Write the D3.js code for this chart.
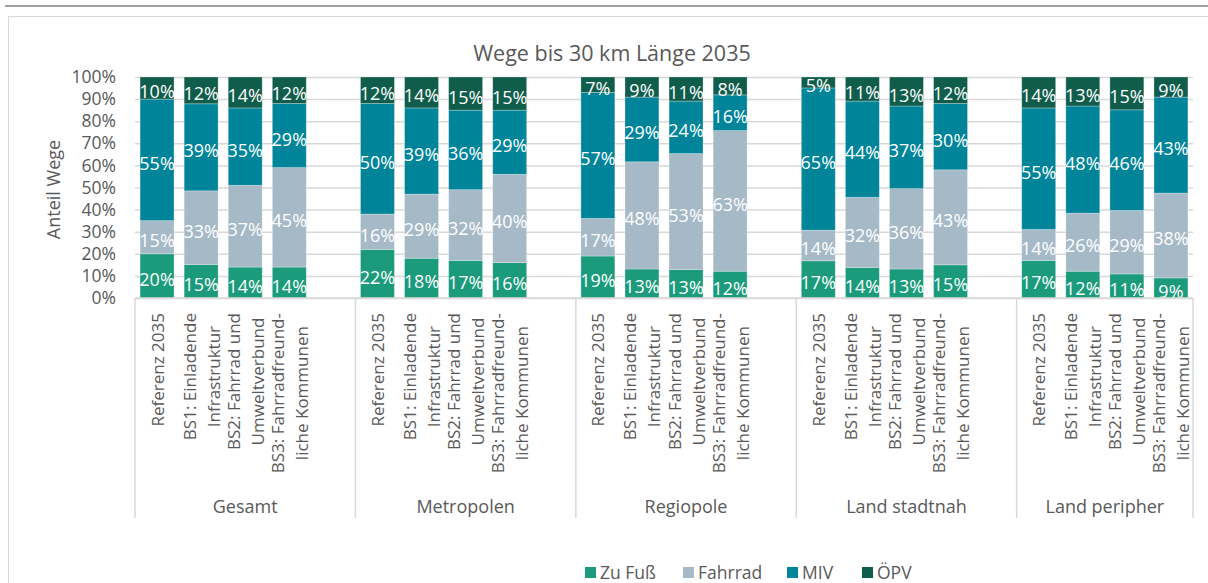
<!DOCTYPE html>
<html><head><meta charset="utf-8">
<script src="https://cdn.jsdelivr.net/npm/d3@7/dist/d3.min.js"></script>
<style>
html,body{margin:0;padding:0;background:#fff;}
svg{display:block;font-family:"Open Sans",sans-serif;}
</style></head><body>
<svg id="chart" width="1208" height="583"></svg>
<script>
const title = "Wege bis 30 km Länge 2035";
const yAxisTitle = "Anteil Wege";
const groups = ["Gesamt", "Metropolen", "Regiopole", "Land stadtnah", "Land peripher"];
const scenarioLines = [
  ["Referenz 2035"],
  ["BS1: Einladende", "Infrastruktur"],
  ["BS2: Fahrrad und", "Umweltverbund"],
  ["BS3: Fahrradfreund-", "liche Kommunen"]
];
const seriesNames = ["Zu Fuß", "Fahrrad", "MIV", "ÖPV"];
const zuFuss  = [20, 15, 14, 14,  22, 18, 17, 16,  19, 13, 13, 12,  17, 14, 13, 15,  17, 12, 11, 9];
const fahrrad = [15, 33, 37, 45,  16, 29, 32, 40,  17, 48, 53, 63,  14, 32, 36, 43,  14, 26, 29, 38];
const miv     = [55, 39, 35, 29,  50, 39, 36, 29,  57, 29, 24, 16,  65, 44, 37, 30,  55, 48, 46, 43];
const oepv    = [10, 12, 14, 12,  12, 14, 15, 15,   7,  9, 11,  8,   5, 11, 13, 12,  14, 13, 15,  9];
const yTicks  = [0, 0.1, 0.2, 0.3, 0.4, 0.5, 0.6, 0.7, 0.8, 0.9, 1.0];
const colors  = ["#1b9b7b", "#a6b9c7", "#00849a", "#115d4b"];

const seriesValues = [zuFuss, fahrrad, miv, oepv];
const svg = d3.select("#chart");
const textColor = "#595959";
const gridColor = "#d9d9d9";

// outer decorations
svg.append("line").attr("x1", 5).attr("x2", 1208).attr("y1", 6).attr("y2", 6)
  .attr("stroke", "#a0a0a0").attr("stroke-width", 2);
svg.append("rect").attr("x", 8.5).attr("y", 16.5).attr("width", 1400).attr("height", 800)
  .attr("fill", "none").attr("stroke", gridColor).attr("stroke-width", 1);

// slots (with blank slots between groups)
const slots = [];
groups.forEach((g, gi) => {
  scenarioLines.forEach((s, si) => slots.push(gi + "-" + si));
  if (gi < groups.length - 1) slots.push(gi + "-gap");
});

const plotLeft = 135, plotRight = 1193, plotTop = 77, plotBottom = 298;
const x = d3.scaleBand().domain(slots).range([plotLeft, plotRight]).paddingInner(0.23).paddingOuter(0.115);
const y = d3.scaleLinear().domain([0, 1]).range([plotBottom, plotTop]);

// rows
const rows = [];
groups.forEach((g, gi) => {
  scenarioLines.forEach((s, si) => {
    const idx = gi * 4 + si;
    const r = { key: gi + "-" + si };
    seriesNames.forEach((n, k) => r[n] = seriesValues[k][idx]);
    rows.push(r);
  });
});

// gridlines
svg.append("g")
  .attr("transform", `translate(${plotLeft},0)`)
  .call(d3.axisLeft(y).tickValues(yTicks).tickSize(-(plotRight - plotLeft)).tickFormat(""))
  .call(g => g.select(".domain").remove())
  .call(g => g.selectAll("line").attr("stroke", gridColor).attr("stroke-width", 1.5));

// y axis labels
svg.append("g")
  .attr("transform", `translate(116,0)`)
  .call(d3.axisLeft(y).tickValues(yTicks).tickSize(0).tickPadding(0).tickFormat(d3.format(".0%")))
  .call(g => g.select(".domain").remove())
  .call(g => g.selectAll("text").attr("fill", textColor).style("font-size", "17.5px").style("font-family", "'Open Sans',sans-serif"));

// y axis title
svg.append("text")
  .attr("transform", `translate(53,${(plotTop + plotBottom) / 2 + 2}) rotate(-90)`)
  .attr("text-anchor", "middle").attr("dominant-baseline", "central")
  .attr("fill", textColor).style("font-size", "18px").text(yAxisTitle);

// title
svg.append("text").attr("x", 612).attr("y", 52)
  .attr("text-anchor", "middle").attr("dominant-baseline", "central")
  .attr("fill", textColor).style("font-size", "21.5px").text(title);

// stacked bars
const stack = d3.stack().keys(seriesNames).offset(d3.stackOffsetExpand);
const stacked = stack(rows);

svg.append("defs").append("clipPath").attr("id", "plotclip")
  .append("rect").attr("x", plotLeft).attr("y", plotTop).attr("width", plotRight - plotLeft).attr("height", plotBottom - plotTop);

const layers = svg.append("g").selectAll("g").data(stacked).join("g")
  .attr("fill", (d, i) => colors[i]);
layers.selectAll("rect").data(d => d).join("rect")
  .attr("x", d => x(d.data.key))
  .attr("width", x.bandwidth())
  .attr("y", d => y(d[1]))
  .attr("height", d => y(d[0]) - y(d[1]))
  .attr("stroke", "#ffffff").attr("stroke-opacity", 0.35).attr("stroke-width", 0.8);

// value labels
const labelG = svg.append("g").attr("clip-path", "url(#plotclip)");
stacked.forEach((layer, li) => {
  labelG.append("g").selectAll("text").data(layer).join("text")
    .attr("x", d => x(d.data.key) + x.bandwidth() / 2)
    .attr("y", d => (y(d[0]) + y(d[1])) / 2 + 3)
    .attr("text-anchor", "middle").attr("dominant-baseline", "central")
    .attr("fill", "#ffffff").style("font-size", "18px")
    .text(d => d.data[layer.key] + "%");
});

// category axis: baseline and group separators
svg.append("line").attr("x1", plotLeft).attr("x2", plotRight).attr("y1", plotBottom).attr("y2", plotBottom)
  .attr("stroke", gridColor).attr("stroke-width", 1.5);
const sepX = [plotLeft];
groups.forEach((g, gi) => {
  if (gi < groups.length - 1) sepX.push(x(gi + "-gap") + x.bandwidth() / 2 + x.step() / 2);
});
sepX.push(plotRight);
svg.append("g").selectAll("line").data(sepX).join("line")
  .attr("x1", d => d).attr("x2", d => d).attr("y1", plotBottom).attr("y2", 518)
  .attr("stroke", gridColor).attr("stroke-width", 1.5);

// scenario labels (rotated)
const catTop = 313, lineGap = 24;
const catG = svg.append("g");
groups.forEach((g, gi) => {
  scenarioLines.forEach((lines, si) => {
    const cx = x(gi + "-" + si) + x.bandwidth() / 2;
    const grp = catG.append("g").attr("transform", `translate(${cx},${catTop}) rotate(-90)`);
    const texts = lines.map((ln, li) => grp.append("text")
      .attr("y", (li - (lines.length - 1) / 2) * lineGap)
      .attr("dominant-baseline", "central").attr("text-anchor", "middle")
      .attr("fill", textColor).style("font-size", "17px").text(ln));
    const maxW = d3.max(texts, t => t.node().getComputedTextLength());
    texts.forEach(t => t.attr("x", -maxW / 2));
  });
});

// group labels
groups.forEach((g, gi) => {
  const x0 = sepX[gi], x1 = sepX[gi + 1];
  svg.append("text").attr("x", (x0 + x1) / 2).attr("y", 506)
    .attr("text-anchor", "middle").attr("dominant-baseline", "central")
    .attr("fill", textColor).style("font-size", "18px").text(g);
});

// legend
const legendX = [585, 683, 787, 862];
const legend = svg.append("g");
seriesNames.forEach((n, i) => {
  legend.append("rect").attr("x", legendX[i]).attr("y", 567).attr("width", 11).attr("height", 11).attr("fill", colors[i]);
  legend.append("text").attr("x", legendX[i] + 15).attr("y", 572)
    .attr("dominant-baseline", "central").attr("fill", textColor).style("font-size", "17.5px").text(n);
});
</script>
</body></html>
